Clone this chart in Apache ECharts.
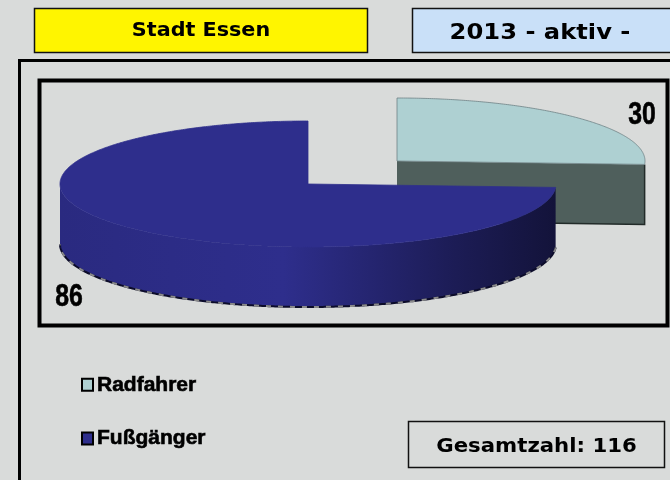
<!DOCTYPE html>
<html><head><meta charset="utf-8">
<style>html,body{margin:0;padding:0;background:#d9dbda}#c{width:670px;height:480px}</style>
<script src="https://cdn.jsdelivr.net/npm/echarts@6/dist/echarts.min.js"></script>
</head><body><div id="c"></div>
<script>
const categories = ['Radfahrer', 'Fußgänger'];
const values = [30, 86];
const topColors = ['#aed0d2', '#2e2e8c'];
const headerLeft = 'Stadt Essen';
const headerRight = '2013 - aktiv -';
const totalLabel = 'Gesamtzahl: 116';

const total = values.reduce((a, b) => a + b, 0);
const RX = 248, RY = 63, DEPTH = 60;
const layouts = [
  {cx: 397, cy: 161, lx: 642, ly: 115},
  {cx: 308, cy: 184, lx: 69, ly: 297}
];
function sliceSeries(idx) {
  const before = values.slice(0, idx).reduce((a, b) => a + b, 0);
  const a0 = before / total * 360, a1 = (before + values[idx]) / total * 360;
  return {
    name: categories[idx],
    type: 'custom',
    coordinateSystem: 'none',
    silent: true,
    z: 2 + idx,
    itemStyle: {color: topColors[idx]},
    data: [values[idx]],
    renderItem(params, api) {
      const L = layouts[idx];
      const pt = (deg, dy) => {
        const r = deg * Math.PI / 180;
        return [L.cx + RX * Math.sin(r), L.cy - RY * Math.cos(r) + (dy || 0)];
      };
      const arc = [];
      for (let d = a0; d <= a1; d += 0.5) arc.push(pt(d));
      arc.push(pt(a1));
      const children = [];
      if (idx === 0) {
        const tip = pt(a1);
        children.push({type: 'polygon', shape: {points: [[L.cx, L.cy], tip, [tip[0], tip[1] + DEPTH], [L.cx, L.cy + DEPTH]]},
          style: {fill: '#4f5f5c'}});
        children.push({type: 'polyline', shape: {points: [[L.cx, L.cy + DEPTH], [tip[0], tip[1] + DEPTH], tip]},
          style: {stroke: '#222b29', fill: null, lineWidth: 1.5}});
      } else {
        const front = [];
        for (let d = a0; d <= 270; d += 0.5) front.push(pt(d));
        const lower = front.map(p => [p[0], p[1] + DEPTH]);
        children.push({type: 'polygon', shape: {points: front.concat(lower.slice().reverse())},
          style: {fill: {type: 'linear', x: 0, y: 0, x2: 1, y2: 0, colorStops: [
            {offset: 0, color: '#2a2a80'}, {offset: 0.45, color: '#2e2e8c'},
            {offset: 0.8, color: '#1c1c55'}, {offset: 1, color: '#13133a'}]}}});
        children.push({type: 'polyline', shape: {points: lower},
          style: {stroke: '#0c0c2a', fill: null, lineWidth: 2}});
        children.push({type: 'polyline', shape: {points: lower},
          style: {stroke: '#8a8a8a', fill: null, lineWidth: 2, lineDash: [5, 7]}});
      }
      children.push({type: 'polygon', shape: {points: [[L.cx, L.cy]].concat(arc)},
        style: {fill: topColors[idx], stroke: idx === 0 ? '#6f8285' : '#2e2e8c', lineWidth: 0.8}});
      children.push({type: 'text', x: L.lx, y: L.ly, scaleX: 0.8,
        style: {text: String(values[idx]), x: 0, y: 0, align: 'center', verticalAlign: 'middle',
          font: 'bold 31px "Liberation Sans"', fill: '#000', stroke: '#000', lineWidth: 0.6}});
      return {type: 'group', children};
    }
  };
}
function box(x, y, w, h, fill, lw) {
  return {type: 'rect', shape: {x, y, width: w, height: h}, style: {fill, stroke: '#111', lineWidth: lw}, z: 5, silent: true};
}
function label(x, y, text, size, sx) {
  return {type: 'text', x, y, z: 6, silent: true, scaleX: sx,
    style: {text, align: 'center', verticalAlign: 'middle', font: 'bold ' + size + 'px "DejaVu Sans"', fill: '#000'}};
}
const chart = echarts.init(document.getElementById('c'), null, {renderer: 'canvas'});
chart.setOption({
  backgroundColor: '#d9dbda',
  animation: false,
  legend: {
    orient: 'vertical', left: 76, top: 369, itemGap: 32, itemWidth: 11, itemHeight: 12, icon: 'rect',
    data: categories, selectedMode: false,
    itemStyle: {borderColor: '#000', borderWidth: 2},
    textStyle: {fontFamily: '"Liberation Sans"', fontWeight: 'bold', fontSize: 21, color: '#000', padding: [0, 0, 0, -1],
      textBorderColor: '#000', textBorderWidth: 0.6}
  },
  graphic: [
    {type: 'rect', shape: {x: 19.5, y: 60.5, width: 700, height: 460}, style: {fill: 'transparent', stroke: '#000', lineWidth: 3}, z: 1, silent: true},
    {type: 'rect', shape: {x: 39.5, y: 80.5, width: 628, height: 245}, style: {fill: 'transparent', stroke: '#000', lineWidth: 4}, z: 1, silent: true},
    box(34.5, 8.5, 333, 44, '#fff500', 1.5),
    label(201, 31, headerLeft, 19, 1.09),
    box(412.5, 8.5, 270, 44, '#c9e0f8', 1.5),
    label(540, 33, headerRight, 22, 1.1),
    box(408.5, 421.5, 256, 46, '#d9dbda', 1.5),
    label(536.5, 447, totalLabel, 19.5, 1.09)
  ],
  series: [sliceSeries(0), sliceSeries(1)]
});
</script></body></html>
